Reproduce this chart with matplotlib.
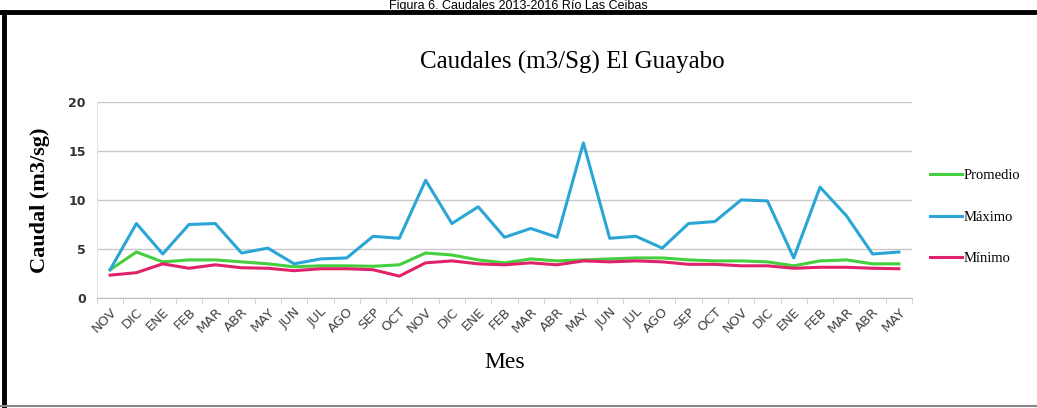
import numpy as np
import matplotlib
matplotlib.use("Agg")
import matplotlib.pyplot as plt
from matplotlib.lines import Line2D

# months NOV 2013 .. MAY 2016
meses = ['NOV', 'DIC', 'ENE', 'FEB', 'MAR', 'ABR', 'MAY', 'JUN', 'JUL', 'AGO', 'SEP', 'OCT',
         'NOV', 'DIC', 'ENE', 'FEB', 'MAR', 'ABR', 'MAY', 'JUN', 'JUL', 'AGO', 'SEP', 'OCT',
         'NOV', 'DIC', 'ENE', 'FEB', 'MAR', 'ABR', 'MAY']

promedio = [2.9, 4.7, 3.7, 3.9, 3.9, 3.7, 3.5, 3.2, 3.3, 3.3, 3.25, 3.4,
            4.6, 4.4, 3.9, 3.6, 4.0, 3.8, 3.9, 4.0, 4.1, 4.1, 3.9, 3.8,
            3.8, 3.7, 3.3, 3.8, 3.9, 3.5, 3.5]
maximo = [2.9, 7.6, 4.5, 7.5, 7.6, 4.6, 5.1, 3.5, 4.0, 4.1, 6.3, 6.1,
          12.0, 7.6, 9.3, 6.2, 7.1, 6.2, 15.8, 6.1, 6.3, 5.1, 7.6, 7.8,
          10.0, 9.9, 4.1, 11.3, 8.4, 4.5, 4.7]
minimo = [2.35, 2.6, 3.5, 3.05, 3.4, 3.1, 3.05, 2.8, 3.0, 3.0, 2.9, 2.25,
          3.6, 3.8, 3.5, 3.4, 3.6, 3.4, 3.8, 3.7, 3.8, 3.7, 3.45, 3.45,
          3.3, 3.3, 3.05, 3.15, 3.15, 3.05, 3.0]

c_prom = '#45cf3e'
c_max = '#2aa6d6'
c_min = '#e0226b'
serif = 'Liberation Serif'

fig = plt.figure(figsize=(10.37, 4.08), dpi=100)
ax = fig.add_axes([0.0935, 0.269, 0.786, 0.482])

x = np.arange(len(meses))
ax.plot(x, promedio, color=c_prom, lw=2.2, label='Promedio')
ax.plot(x, maximo, color=c_max, lw=2.2, label='Máximo')
ax.plot(x, minimo, color=c_min, lw=2.2, label='Mínimo')

ax.set_xlim(-0.5, len(meses) - 0.5)
ax.set_ylim(0, 20)
ax.set_yticks([0, 5, 10, 15, 20])
ax.grid(axis='y', color='#c8c8c8', lw=1.0)
ax.set_axisbelow(True)
for s in ['top', 'right']:
    ax.spines[s].set_visible(False)
ax.spines['left'].set_color('#e4e4e4')
ax.spines['bottom'].set_color('#bdbdbd')

ax.set_xticks(x)
ax.set_xticklabels(meses, rotation=45, ha='right', va='top', rotation_mode='anchor',
                   fontsize=9.5, color='#444444')
ax.tick_params(axis='x', length=0, pad=5)
ax.set_xticks(np.arange(-0.5, len(meses)), minor=True)
ax.tick_params(axis='x', which='minor', length=4, color='#cfcfcf', direction='out')
ax.tick_params(axis='y', length=0, pad=8, labelsize=9, labelcolor='#333333')
for t in ax.get_yticklabels():
    t.set_fontweight('bold')

ax.set_ylabel('Caudal (m3/sg)', fontfamily=serif, fontsize=16, fontweight='bold',
              labelpad=13)
ax.set_xlabel('Mes', fontfamily=serif, fontsize=17, labelpad=12)
fig.text(0.552, 0.848, 'Caudales (m3/Sg) El Guayabo', fontfamily=serif, fontsize=18,
         ha='center', va='center')

handles = [Line2D([], [], color=c_prom, lw=2.2),
           Line2D([], [], color=c_max, lw=2.2),
           Line2D([], [], color=c_min, lw=2.2)]
fig.legend(handles, ['Promedio', 'Máximo', 'Mínimo'], loc='center left',
           bbox_to_anchor=(0.884, 0.468), frameon=False, handlelength=2.2,
           handletextpad=0.1, labelspacing=1.95, prop={'family': serif, 'size': 10.5})

# outer caption (at the very top) and frame
fig.text(0.5, 0.999, 'Figura 6. Caudales 2013-2016 Río Las Ceibas', fontsize=9,
         ha='center', va='top', family='Liberation Sans')
fig.add_artist(Line2D([0.0, 1.0], [0.970, 0.970], color='black', lw=3.5))
fig.add_artist(Line2D([0.004, 0.004], [0.0, 0.970], color='black', lw=3.5))
fig.add_artist(Line2D([0.0, 1.0], [0.006, 0.006], color='#888888', lw=1.5))

fig.savefig('out.png', dpi=100)
